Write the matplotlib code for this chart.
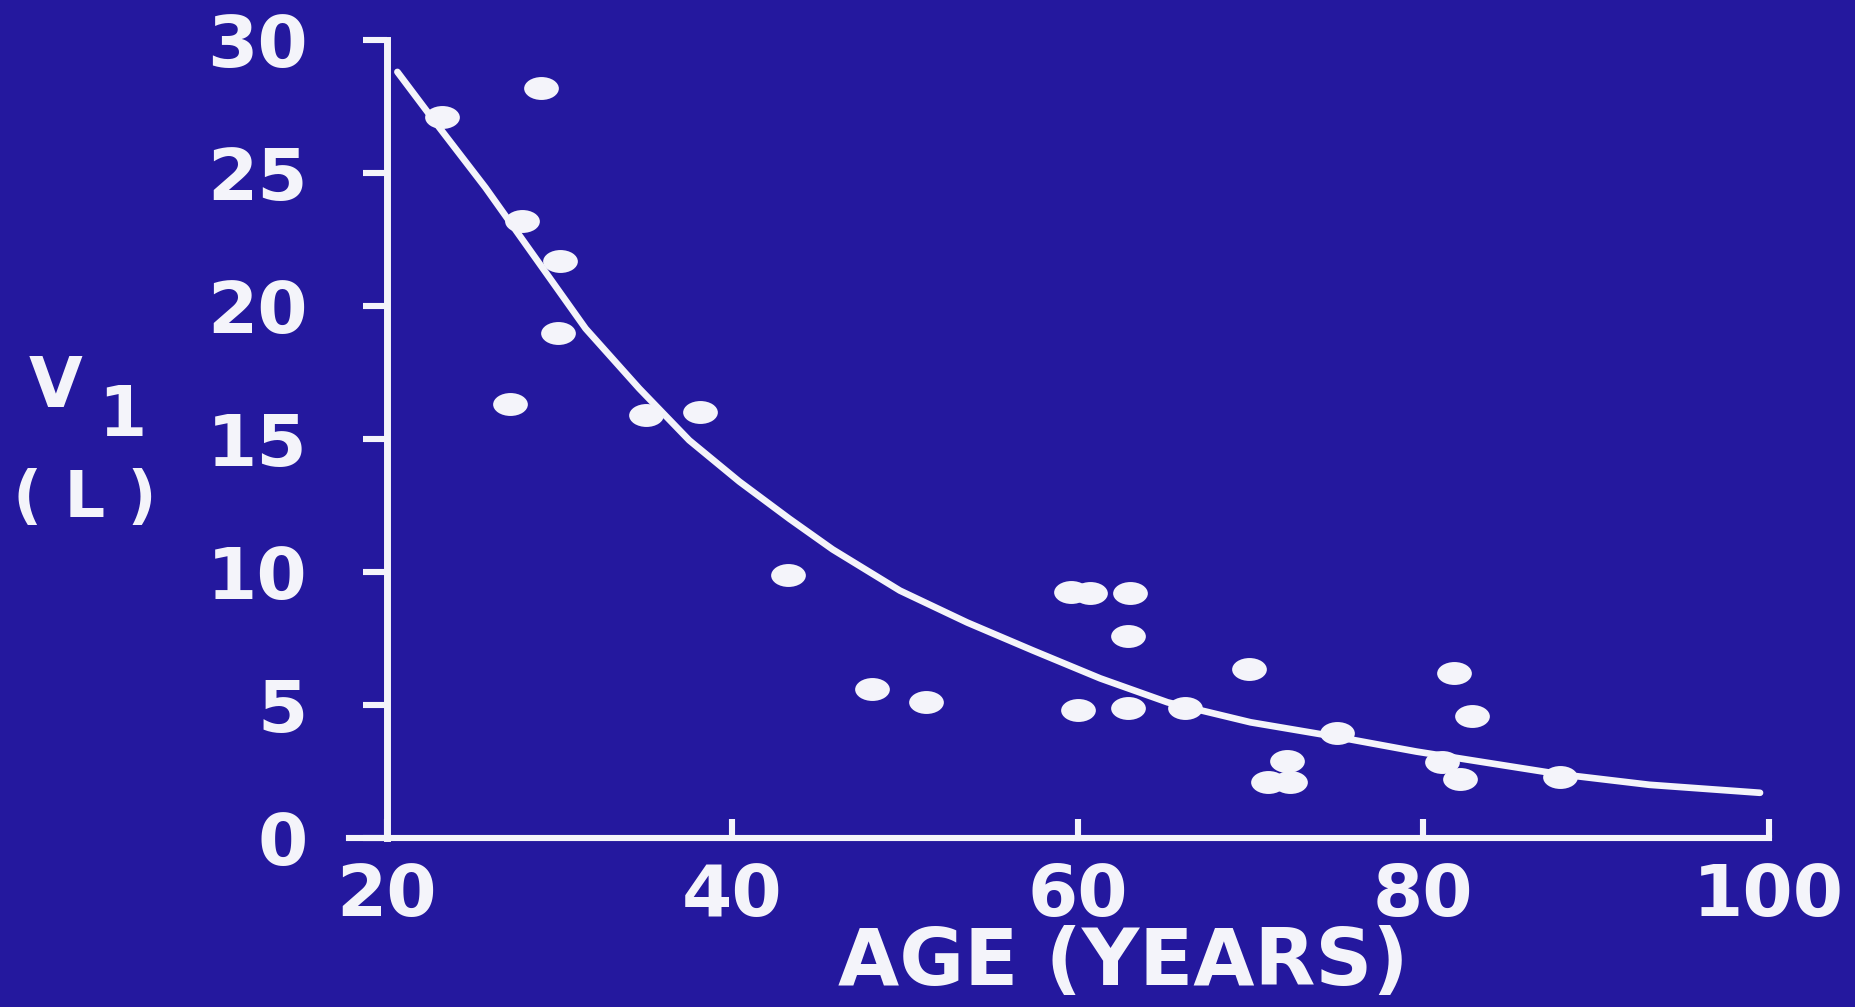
import matplotlib
matplotlib.use("Agg")
import matplotlib.pyplot as plt
from matplotlib.path import Path

# scatter data: age (years) and V1 (litres)
ages = [23.2, 28.9, 27.8, 30.0, 29.9, 27.1, 35.0, 38.1, 43.2, 48.1,
        51.2, 59.6, 60.7, 63.0, 62.9, 60.0, 62.9, 66.2, 69.9, 75.0,
        72.1, 71.0, 72.3, 81.8, 82.8, 81.1, 82.1, 87.9]
v1 = [27.1, 28.2, 23.2, 21.7, 19.0, 16.3, 15.9, 16.0, 9.9, 5.6,
      5.1, 9.25, 9.2, 9.2, 7.6, 4.8, 4.9, 4.9, 6.35, 3.95,
      2.9, 2.1, 2.1, 6.2, 4.6, 2.85, 2.2, 2.3]

# fitted curve, points
curve_age = [20.6, 22.8, 25.7, 28.6, 31.5, 34.6, 37.5, 40.4, 43.3, 45.8,
             49.7, 53.6, 57.4, 61.3, 65.2, 70.0, 75.0, 79.6, 83.5, 87.9,
             93.1, 99.5]
curve_v1 = [28.8, 26.9, 24.45, 21.8, 19.15, 16.9, 14.95, 13.4, 12.0, 10.85,
            9.3, 8.1, 7.05, 6.0, 5.1, 4.35, 3.8, 3.25, 2.85, 2.4,
            2.0, 1.7]

xticks = [20, 40, 60, 80, 100]
yticks = [0, 5, 10, 15, 20, 25, 30]

bg = '#24189E'
fg = '#F4F4FA'
font = 'DejaVu Sans'

fig = plt.figure(figsize=(18.55, 10.07), dpi=100)
fig.patch.set_facecolor(bg)
ax = fig.add_axes([0.1714, 0.1414, 0.8193, 0.8453])
ax.set_facecolor(bg)

ax.plot(curve_age, curve_v1, color=fg, lw=4.8, solid_capstyle='round',
        solid_joinstyle='round', zorder=3)

# the slide is stretched sideways, so the dots are flat ellipses
circ = Path.unit_circle()
ellipse = Path(circ.vertices * [1.0, 0.66], circ.codes)
ax.plot(ages, v1, ls='none', marker=ellipse, markersize=25,
        color=fg, markeredgewidth=0, zorder=4)

ax.set_xlim(16, 104)
ax.set_ylim(-1, 31)

for side in ['top', 'right']:
    ax.spines[side].set_visible(False)
ax.spines['left'].set_position(('data', 20))
ax.spines['bottom'].set_position(('data', 0))
ax.spines['left'].set_bounds(0, 30)
ax.spines['bottom'].set_bounds(17.8, 100)
ax.spines['left'].set_color(fg)
ax.spines['bottom'].set_color(fg)
ax.spines['left'].set_linewidth(5.0)
ax.spines['bottom'].set_linewidth(4.4)

ax.set_xticks(xticks)
ax.set_yticks(yticks)
ax.set_xticklabels([str(t) for t in xticks])
ax.set_yticklabels([str(t) for t in yticks])
ax.tick_params(axis='x', direction='in', length=14, width=4.4, color=fg,
               labelcolor=fg, labelsize=52, pad=17)
ax.tick_params(axis='y', direction='out', length=17, width=4.4, color=fg,
               labelcolor=fg, labelsize=52, pad=40)
for lab in ax.get_xticklabels() + ax.get_yticklabels():
    lab.set_fontfamily(font)
    lab.set_fontweight('bold')

# axis titles
fig.text(0.6054, 0.022, 'AGE (YEARS)', color=fg, fontsize=57, family=font,
         weight='bold', ha='center', va='baseline')
fig.text(0.0297, (1007 - 407) / 1007, 'V', color=fg, fontsize=50, family=font,
         weight='bold', ha='center', va='baseline')
fig.text(0.0660, (1007 - 436) / 1007, '1', color=fg, fontsize=50, family=font,
         weight='bold', ha='center', va='baseline')
fig.text(0.0458, (1007 - 517) / 1007, '( L )', color=fg, fontsize=46, family=font,
         weight='bold', ha='center', va='baseline')

plt.savefig('out.png', dpi=100, facecolor=bg)
